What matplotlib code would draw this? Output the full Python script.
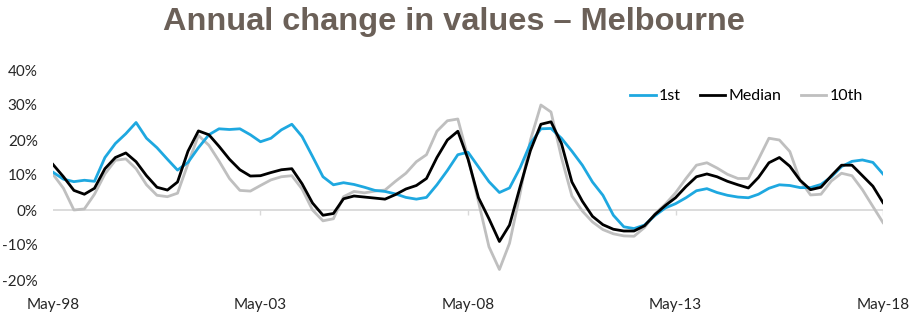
import numpy as np
import pandas as pd
import matplotlib
matplotlib.use("Agg")
import matplotlib.pyplot as plt

# quarterly readings, May-98 .. May-18 (annual change, %)
dates = pd.date_range("1998-05-01", periods=81, freq="3MS")

first = [10.8, 8.8, 8.1, 8.5, 8.2, 15.0, 19.0, 21.8, 25.0, 20.5,
         17.8, 14.5, 11.4, 13.6, 17.8, 21.5, 23.2, 23.0, 23.2, 21.5,
         19.5, 20.5, 22.9, 24.5, 21.0, 15.3, 9.5, 7.2, 7.8, 7.3,
         6.5, 5.6, 5.3, 4.6, 3.6, 3.1, 3.6, 7.2, 11.3, 15.8,
         16.5, 12.3, 8.1, 5.0, 6.3, 12.0, 19.0, 23.2, 23.3, 20.5,
         16.8, 12.8, 8.0, 4.2, -1.5, -4.8, -5.3, -4.3, -1.6, 0.6,
         1.8, 3.5, 5.5, 6.1, 5.0, 4.2, 3.7, 3.5, 4.5, 6.2,
         7.2, 7.0, 6.4, 6.4, 7.3, 9.5, 12.4, 13.9, 14.3, 13.6,
         10.3]

median = [13.0, 9.5, 5.6, 4.5, 6.2, 11.8, 15.0, 16.3, 13.8, 9.8,
          6.5, 5.7, 8.0, 16.8, 22.6, 21.5, 18.2, 14.5, 11.5, 9.7,
          9.8, 10.7, 11.5, 11.8, 7.5, 2.0, -1.5, -1.0, 3.2, 4.0,
          3.7, 3.4, 3.1, 4.4, 6.0, 7.0, 9.0, 15.0, 20.0, 22.5,
          14.5, 3.5, -2.5, -9.0, -4.3, 6.5, 17.0, 24.5, 25.2, 19.0,
          8.0, 2.5, -1.8, -4.2, -5.5, -6.0, -6.0, -4.5, -1.3, 1.3,
          3.5, 6.7, 9.5, 10.3, 9.5, 8.2, 7.2, 6.3, 9.3, 13.5,
          15.0, 12.5, 8.5, 5.8, 6.5, 9.8, 12.8, 12.8, 9.8, 6.8,
          2.1]

tenth = [10.2, 6.2, 0.0, 0.3, 4.5, 10.3, 14.2, 14.6, 11.8, 7.2,
         4.2, 3.8, 4.8, 13.2, 21.3, 18.5, 14.0, 9.0, 5.6, 5.4,
         7.0, 8.6, 9.5, 9.8, 6.0, 0.0, -3.1, -2.5, 3.8, 5.3,
         4.9, 5.4, 5.7, 8.2, 10.5, 13.8, 15.8, 22.5, 25.5, 26.0,
         15.0, 2.3, -10.5, -17.0, -9.5, 4.5, 20.0, 30.0, 28.0, 15.0,
         4.0, -0.3, -3.4, -5.6, -6.8, -7.4, -7.5, -5.0, -1.1, 1.7,
         4.9, 9.0, 12.8, 13.5, 12.0, 10.2, 9.0, 9.0, 14.5, 20.5,
         20.0, 16.7, 8.5, 4.3, 4.5, 8.3, 10.5, 9.8, 5.8, 1.0,
         -3.6]

tick_dates = pd.to_datetime(["1998-05-01", "2003-05-01", "2008-05-01",
                             "2013-05-01", "2018-05-01"])
tick_labels = ["May-98", "May-03", "May-08", "May-13", "May-18"]
yticks = [-20, -10, 0, 10, 20, 30, 40]

plt.rcParams["font.family"] = ["Lato", "DejaVu Sans"]

fig = plt.figure(figsize=(9.09, 3.31), dpi=100)
ax = fig.add_axes([53/909, 51/331, 830/909, 210/331])

ax.axhline(0, color="#d9d9d9", lw=1.3, zorder=1)
ax.vlines(tick_dates[1:], -1.4, 0, color="#d9d9d9", lw=1.0, zorder=1)

ax.plot(dates, tenth, color="#bfbfbf", lw=2.0, label="10th", zorder=2)
ax.plot(dates, first, color="#1ea8e0", lw=2.0, label="1st", zorder=3)
ax.plot(dates, median, color="black", lw=2.0, label="Median", zorder=4)

ax.set_xlim(dates[0], dates[-1])
ax.set_ylim(-20, 40)
ax.set_yticks(yticks)
ax.set_yticklabels([f"{v}%" for v in yticks])
ax.set_xticks(tick_dates)
ax.set_xticklabels(tick_labels)
ax.tick_params(axis="y", length=0, pad=11, labelsize=11, labelcolor="#262626")
ax.tick_params(axis="x", length=0, pad=13, labelsize=11, labelcolor="#262626")
for s in ax.spines.values():
    s.set_visible(False)

# legend order as in the original: 1st, Median, 10th
h, l = ax.get_legend_handles_labels()
order = [1, 2, 0]
ax.legend([h[i] for i in order], [l[i] for i in order], ncol=3, frameon=False,
          loc="center left", bbox_to_anchor=(622/909, 1 - 96/331),
          bbox_transform=fig.transFigure, fontsize=11.5, handlelength=1.6,
          handletextpad=0.2, columnspacing=1.2, borderpad=0)

fig.text(454/909, 1 - 22/331, "Annual change in values \u2013 Melbourne",
         ha="center", va="center", fontsize=23.4, fontweight="bold",
         color="#6b6058", family=["Liberation Sans", "DejaVu Sans"])

fig.savefig("out.png", dpi=100)
